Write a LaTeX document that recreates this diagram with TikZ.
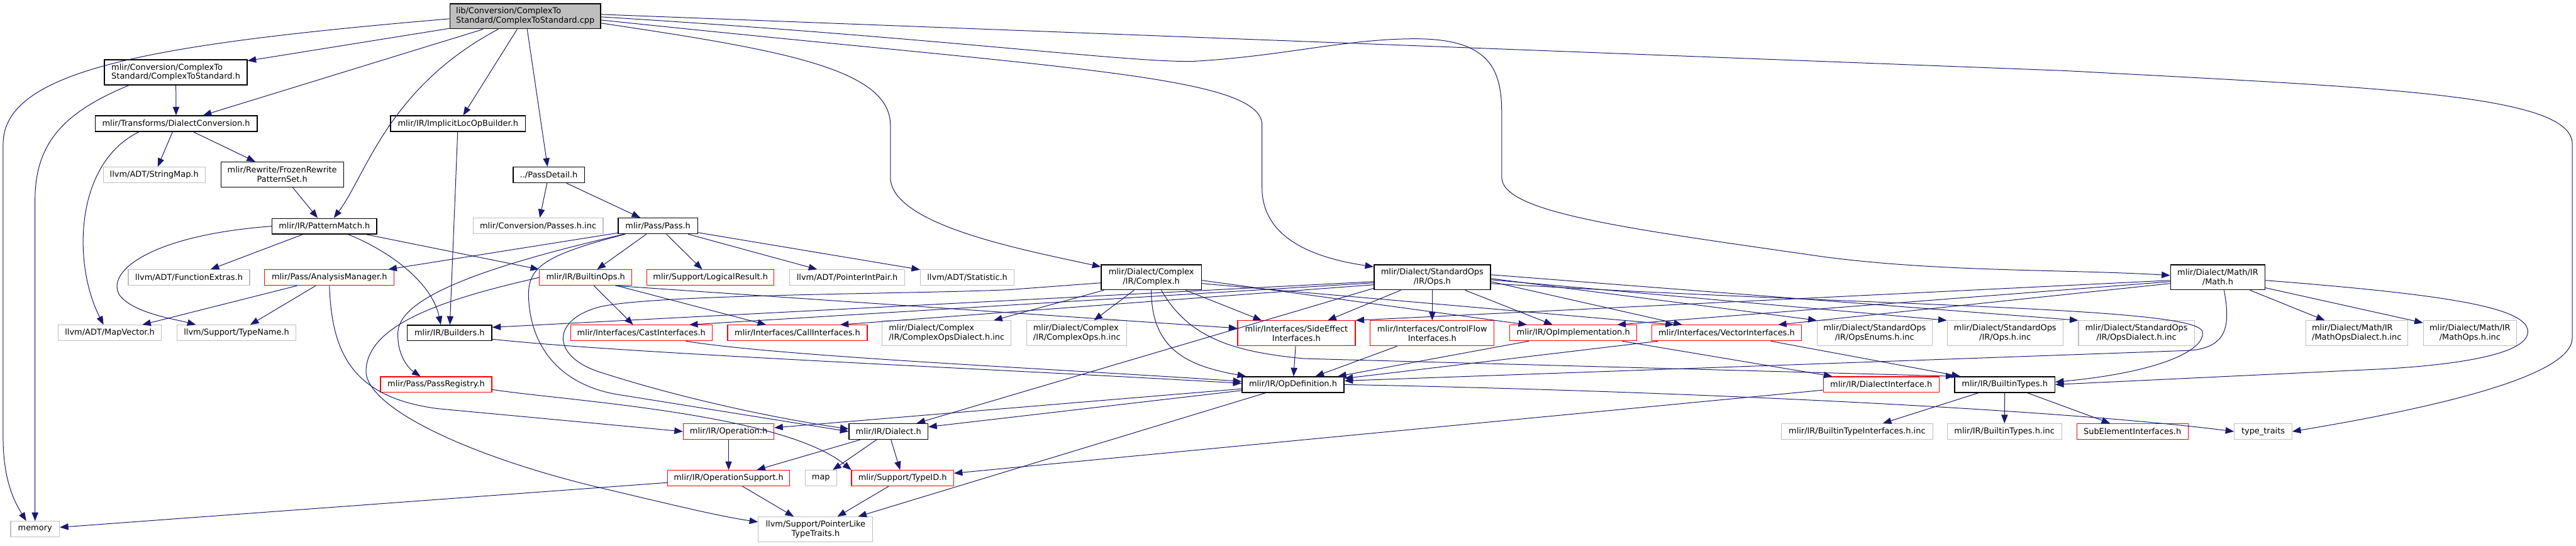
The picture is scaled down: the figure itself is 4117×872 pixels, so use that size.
\documentclass[tikz,border=0pt]{standalone}
\usepackage{fontspec}
\newfontfamily\graphfont{DejaVu Sans}
\usetikzlibrary{arrows.meta, calc}
\definecolor{edgeblue}{HTML}{191970}
\definecolor{grey75}{HTML}{BFBFBF}
\definecolor{trunc}{HTML}{FF0000}

\tikzset{
  box/.style={rectangle, inner sep=0pt, line width=0.6pt, minimum height=12.5pt,
    font=\graphfont\fontsize{6.5}{7.5}\selectfont},
  wd/.style={minimum width=#1*0.5pt},
  hdr/.style={box, draw=black, line width=0.7pt},
  cut/.style={box, draw=trunc},
  sys/.style={box, draw=grey75},
  cur/.style={box, draw=black, fill=grey75, line width=0.7pt},
  two/.style={minimum height=20pt, align=center},
  twol/.style={minimum height=20pt, align=left},
  inc/.style={draw=edgeblue, line width=0.5pt, -{Triangle[length=6.8pt,width=5.2pt]}},
}

\begin{document}
\begin{tikzpicture}[x=0.5pt, y=-0.5pt]
    \useasboundingbox (0,0) rectangle (4117,872);
    % rank 0
    \node[cur, twol, wd=241] (root) at (839.5,26) {lib/Conversion/ComplexTo\\Standard/ComplexToStandard.cpp};
    % rank 1
    \node[hdr, twol, wd=228] (ctsh) at (281,115.5) {mlir/Conversion/ComplexTo\\Standard/ComplexToStandard.h};
    % rank 2
    \node[hdr, wd=259] (dconv) at (281.5,197.5) {mlir/Transforms/DialectConversion.h};
    \node[hdr, wd=216] (implb) at (732,197.5) {mlir/IR/ImplicitLocOpBuilder.h};
    % rank 3
    \node[sys, wd=163] (strmap) at (246.5,279.5) {llvm/ADT/StringMap.h};
    \node[hdr, two, wd=196] (frozen) at (451,279) {mlir/Rewrite/FrozenRewrite\\PatternSet.h};
    \node[hdr, wd=114] (pdetail) at (877,279.5) {../PassDetail.h};
    % rank 4
    \node[hdr, wd=167] (pmatch) at (518.5,361.5) {mlir/IR/PatternMatch.h};
    \node[sys, wd=208] (passinc) at (860,361) {mlir/Conversion/Passes.h.inc};
    \node[hdr, wd=127] (pass) at (1051.5,361) {mlir/Pass/Pass.h};
    % rank 5
    \node[sys, wd=194] (fnext) at (302,443.5) {llvm/ADT/FunctionExtras.h};
    \node[cut, wd=207] (anamgr) at (526.5,443.5) {mlir/Pass/AnalysisManager.h};
    \node[cut, wd=148] (bops) at (936,443.5) {mlir/IR/BuiltinOps.h};
    \node[cut, wd=203] (logres) at (1135.5,443.5) {mlir/Support/LogicalResult.h};
    \node[sys, wd=184] (ptrint) at (1354,443.5) {llvm/ADT/PointerIntPair.h};
    \node[sys, wd=150] (stat) at (1546,443.5) {llvm/ADT/Statistic.h};
    \node[hdr, two, wd=160] (cplx) at (1840,443) {mlir/Dialect/Complex\\/IR/Complex.h};
    \node[hdr, two, wd=186] (stdops) at (2289,443) {mlir/Dialect/StandardOps\\/IR/Ops.h};
    \node[hdr, two, wd=151] (math) at (3544.5,443) {mlir/Dialect/Math/IR\\/Math.h};
    % rank 6
    \node[sys, wd=165] (mapvec) at (175.5,532) {llvm/ADT/MapVector.h};
    \node[sys, wd=190] (tyname) at (378,532) {llvm/Support/TypeName.h};
    \node[hdr, wd=135] (builders) at (718.5,532) {mlir/IR/Builders.h};
    \node[cut, wd=226] (castif) at (1025,532) {mlir/Interfaces/CastInterfaces.h};
    \node[cut, wd=223] (callif) at (1274.5,532) {mlir/Interfaces/CallInterfaces.h};
    \node[sys, twol, wd=206] (cpxdial) at (1513,532.5) {mlir/Dialect/Complex\\/IR/ComplexOpsDialect.h.inc};
    \node[sys, twol, wd=160] (cpxops) at (1721,532.5) {mlir/Dialect/Complex\\/IR/ComplexOps.h.inc};
    \node[cut, two, wd=188] (sideeff) at (2072,532.5) {mlir/Interfaces/SideEffect\\Interfaces.h};
    \node[cut, two, wd=198] (ctrlflow) at (2289,532.5) {mlir/Interfaces/ControlFlow\\Interfaces.h};
    \node[cut, wd=203] (opimpl) at (2514.5,532) {mlir/IR/OpImplementation.h};
    \node[cut, wd=239] (vecif) at (2759.5,532) {mlir/Interfaces/VectorInterfaces.h};
    \node[sys, two, wd=184] (opsenum) at (2996,532.5) {mlir/Dialect/StandardOps\\/IR/OpsEnums.h.inc};
    \node[sys, two, wd=185] (opsinc) at (3204.5,532.5) {mlir/Dialect/StandardOps\\/IR/Ops.h.inc};
    \node[sys, two, wd=185] (opsdial) at (3414.5,532.5) {mlir/Dialect/StandardOps\\/IR/OpsDialect.h.inc};
    \node[sys, twol, wd=163] (mathdial) at (3766.5,532.5) {mlir/Dialect/Math/IR\\/MathOpsDialect.h.inc};
    \node[sys, two, wd=149] (mathops) at (3947.5,532.5) {mlir/Dialect/Math/IR\\/MathOps.h.inc};
    % rank 7
    \node[cut, wd=178] (preg) at (697,614.5) {mlir/Pass/PassRegistry.h};
    \node[hdr, wd=163] (opdef) at (2066.5,614.5) {mlir/IR/OpDefinition.h};
    \node[cut, wd=185] (dialif) at (3006.5,614.5) {mlir/IR/DialectInterface.h};
    \node[hdr, wd=160] (btypes) at (3204,614.5) {mlir/IR/BuiltinTypes.h};
    % rank 8
    \node[cut, wd=145] (operation) at (1164.5,689.5) {mlir/IR/Operation.h};
    \node[hdr, wd=126] (dialect) at (1420,689.5) {mlir/IR/Dialect.h};
    \node[sys, wd=242] (btyifinc) at (2968,689.5) {mlir/IR/BuiltinTypeInterfaces.h.inc};
    \node[sys, wd=183] (btyinc) at (3203.5,689.5) {mlir/IR/BuiltinTypes.h.inc};
    \node[cut, wd=178] (subel) at (3408,689.5) {SubElementInterfaces.h};
    \node[sys, wd=92] (tytraits) at (3617,689.5) {type\_traits};
    % rank 9
    \node[cut, wd=195] (opsupp) at (1164.5,764) {mlir/IR/OperationSupport.h};
    \node[sys, wd=50] (map) at (1312,764) {map};
    \node[cut, wd=163] (typeid) at (1442.5,764) {mlir/Support/TypeID.h};
    % rank 10
    \node[sys, wd=78] (memory) at (56,845.5) {memory};
    \node[sys, two, wd=183] (ptrlike) at (1303.5,846) {llvm/Support/PointerLike\\TypeTraits.h};

    % includes of the source file
    \draw[inc] ($(root.west)+(0,4)$) .. controls (250,70) and (5,110) .. (5,230)
        -- (5,700) .. controls (5,770) and (25,805) .. ($(memory.north)+(-14,0)$);
    \draw[inc] (root) -- (ctsh);
    \draw[inc] (root) -- (dconv);
    \draw[inc] ($(root.south west)+(78,0)$) .. controls (620,140) and (585,280) .. ($(pmatch.north)+(15,0)$);
    \draw[inc] (root) -- (implb);
    \draw[inc] (root) -- (pdetail);
    \draw[inc] ($(root.east)+(0,11)$) .. controls (1250,80) and (1423,110) .. (1423,200)
        -- (1423,283) .. controls (1423,360) and (1640,400) .. ($(cplx.north west)+(0,4)$);
    \draw[inc] ($(root.east)+(0,6)$) .. controls (1700,110) and (2017,120) .. (2017,200)
        -- (2017,300) .. controls (2017,390) and (2120,415) .. ($(stdops.north west)+(0,4)$);
    \draw[inc] ($(root.east)+(0,1)$) .. controls (1500,60) and (1800,100) .. (1907,98)
        .. controls (2050,90) and (2150,62) .. (2262,62)
        .. controls (2380,62) and (2400,110) .. (2400,180) -- (2400,283)
        .. controls (2400,340) and (2600,365) .. (2912,410)
        .. controls (3100,435) and (3300,430) .. ($(math.west)+(0,-3)$);
    \draw[inc] ($(root.east)+(0,-3)$) -- (3300,113) .. controls (3800,140) and (4111,150) .. (4111,230)
        -- (4111,540) .. controls (4111,600) and (3900,650) .. (tytraits.east);

    % conversion headers
    \draw[inc] (ctsh) -- (dconv);
    \draw[inc] ($(ctsh.south west)+(40,0)$) .. controls (100,180) and (56,230) .. (56,320) -- (memory);
    \draw[inc] (dconv) -- (strmap);
    \draw[inc] (dconv) -- (frozen);
    \draw[inc] ($(dconv.south west)+(71,0)$) .. controls (120,260) and (115,420) .. ($(mapvec.north)+(-10,0)$);
    \draw[inc] (frozen) -- (pmatch);
    \draw[inc] (pmatch) -- (fnext);
    \draw[inc] (pmatch.west) .. controls (250,375) and (170,430) .. (190,470)
        .. controls (210,500) and (280,510) .. ($(tyname.north)+(-65,0)$);
    \draw[inc] ($(pmatch.south east)+(-46,0)$) .. controls (620,400) and (690,450) .. ($(builders.north)+(-14,0)$);
    \draw[inc] ($(pmatch.south east)+(-17,0)$) -- (bops.north west);
    \draw[inc] (anamgr) -- (mapvec);
    \draw[inc] (anamgr) -- (tyname);
    \draw[inc] (anamgr.south) .. controls (530,560) and (560,635) .. (700,653) -- (operation.west);
    \draw[inc] (implb) -- (builders);

    % pass headers
    \draw[inc] (pdetail) -- (passinc);
    \draw[inc] (pdetail) -- (pass);
    \draw[inc] ($(pass.south west)+(0,-2)$) -- ($(anamgr.north east)+(-10,0)$);
    \draw[inc] ($(pass.south west)+(10,0)$) .. controls (800,420) and (640,470) .. (636,530)
        .. controls (634,570) and (655,590) .. ($(preg.north)+(-25,0)$);
    \draw[inc] ($(pass.south west)+(12,0)$) .. controls (860,410) and (842,430) .. (845,480)
        .. controls (850,560) and (900,615) .. (985,630) -- (dialect.west);
    \draw[inc] (pass) -- (bops);
    \draw[inc] (pass) -- (logres);
    \draw[inc] (pass) -- (ptrint);
    \draw[inc] (pass) -- (stat);
    \draw[inc] ($(preg.east)+(0,8)$) .. controls (900,640) and (1250,660) .. (typeid.north west);

    % builtin ops
    \draw[inc] (bops) -- (castif);
    \draw[inc] (bops) -- (callif);
    \draw[inc] ($(bops.south east)+(-27,0)$) -- ($(sideeff.west)+(0,-8)$);
    \draw[inc] (bops.west) .. controls (700,480) and (590,520) .. (585,590)
        .. controls (580,650) and (750,730) .. (962,780)
        .. controls (1080,808) and (1150,825) .. ($(ptrlike.west)+(0,-12)$);

    % complex dialect
    \draw[inc] (cplx) -- (cpxdial);
    \draw[inc] (cplx) -- (cpxops);
    \draw[inc] (cplx.south) .. controls (1840,560) and (1900,585) .. ($(opdef.north west)+(7,0)$);
    \draw[inc] ($(cplx.south)+(16,0)$) .. controls (1900,540) and (1970,562) .. (2084,573) -- (btypes.north west);
    \draw[inc] ($(cplx.south east)+(-26,0)$) -- ($(sideeff.north west)+(39,0)$);
    \draw[inc] ($(cplx.east)+(0,5)$) -- ($(opimpl.north west)+(28,0)$);
    \draw[inc] ($(cplx.east)+(0,10)$) -- ($(vecif.north west)+(36,0)$);
    \draw[inc] ($(cplx.west)+(0,9)$) -- (1612,463) .. controls (1450,470) and (1050,470) .. (960,490)
        .. controls (880,510) and (880,570) .. (960,595)
        .. controls (1100,640) and (1250,670) .. ($(dialect.west)+(0,-4)$);

    % standard ops dialect
    \draw[inc] ($(stdops.west)+(0,7)$) -- ($(builders.east)+(0,-9)$);
    \draw[inc] ($(stdops.west)+(0,9)$) -- ($(castif.north east)+(-37,0)$);
    \draw[inc] ($(stdops.west)+(0,12)$) -- ($(callif.north east)+(-44,0)$);
    \draw[inc] ($(stdops.south west)+(0,-3)$) -- ($(dialect.north)+(45,0)$);
    \draw[inc] (stdops) -- (sideeff);
    \draw[inc] (stdops) -- (ctrlflow);
    \draw[inc] (stdops) -- (opimpl);
    \draw[inc] ($(stdops.east)+(0,7)$) -- ($(vecif.north west)+(49,0)$);
    \draw[inc] ($(stdops.east)+(0,2)$) -- (opsenum.north west);
    \draw[inc] ($(stdops.east)+(0,4)$) -- (opsinc.north west);
    \draw[inc] ($(stdops.east)+(0,-4)$) -- (opsdial.north west);
    \draw[inc] ($(stdops.east)+(0,10)$) .. controls (3000,490) and (3510,490) .. (3520,530)
        .. controls (3525,560) and (3450,595) .. ($(btypes.east)+(0,-4)$);

    % math dialect
    \draw[inc] (math) -- (mathdial);
    \draw[inc] (math) -- (mathops);
    \draw[inc] ($(math.west)+(0,5)$) -- (sideeff.north east);
    \draw[inc] ($(math.west)+(0,7)$) -- ($(opimpl.north east)+(-32,0)$);
    \draw[inc] ($(math.west)+(0,10)$) -- ($(vecif.north east)+(-38,0)$);
    \draw[inc] ($(math.south)+(10,0)$) .. controls (3565,520) and (3560,555) .. (3500,560)
        -- ($(opdef.east)+(0,-6)$);
    \draw[inc] ($(math.east)+(0,5)$) .. controls (3900,470) and (4040,490) .. (4040,530)
        .. controls (4040,570) and (3900,585) .. (3800,590) -- (btypes.east);

    % interfaces and IR
    \draw[inc] (sideeff) -- (opdef);
    \draw[inc] (ctrlflow) -- (opdef);
    \draw[inc] (opimpl) -- (opdef);
    \draw[inc] (opimpl) -- (dialif);
    \draw[inc] (vecif) -- (opdef);
    \draw[inc] (vecif) -- (btypes);
    \draw[inc] ($(castif.south)+(71,0)$) .. controls (1250,570) and (1700,590) .. ($(opdef.west)+(0,-5)$);
    \draw[inc] ($(builders.east)+(0,10)$) .. controls (1000,565) and (1600,590) .. ($(opdef.west)+(0,-2)$);
    \draw[inc] (opdef) -- (operation);
    \draw[inc] (opdef) -- (dialect);
    \draw[inc] (opdef) -- (ptrlike);
    \draw[inc] (opdef.east) .. controls (2700,625) and (3300,655) .. (tytraits.west);
    \draw[inc] (btypes) -- (btyifinc);
    \draw[inc] (btypes) -- (btyinc);
    \draw[inc] (btypes) -- (subel);
    \draw[inc] (dialif) -- (typeid);
    \draw[inc] (dialect) -- (opsupp);
    \draw[inc] (dialect) -- (map);
    \draw[inc] (dialect) -- (typeid);
    \draw[inc] (operation) -- (opsupp);
    \draw[inc] (opsupp) -- (memory);
    \draw[inc] (opsupp) -- (ptrlike);
    \draw[inc] (typeid) -- (ptrlike);
\end{tikzpicture}
\end{document}
